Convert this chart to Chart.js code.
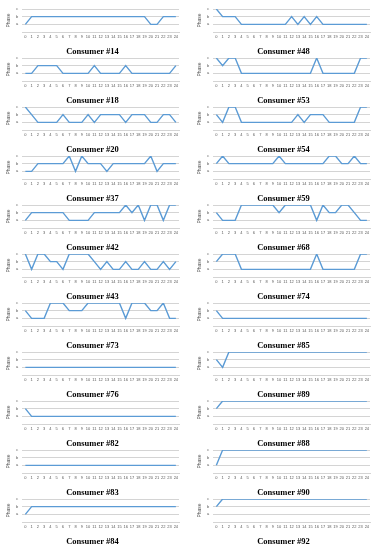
<!DOCTYPE html>
<html><head><meta charset="utf-8">
<script src="https://cdn.jsdelivr.net/npm/chart.js@4.4.1/dist/chart.umd.min.js"></script>
<style>
html,body{margin:0;padding:0;background:#fff;}
body{width:383px;height:550px;position:relative;overflow:hidden;}
canvas{position:absolute;}
</style></head><body>
<script>
// x categories (hour of day) and y tick labels (phase)
const hours = ['0','1','2','3','4','5','6','7','8','9','10','11','12','13','14','15','16','17','18','19','20','21','22','23','24'];
const phaseLabels = ['', 'a', 'b', 'c'];   // 1 = a, 2 = b, 3 = c

// left column
const consumer14 = [1,2,2,2,2,2,2,2,2,2,2,2,2,2,2,2,2,2,2,2,1,1,2,2,2];
const consumer18 = [1,1,2,2,2,2,1,1,1,1,1,2,1,1,1,1,2,1,1,1,1,1,1,1,2];
const consumer20 = [3,2,1,1,1,1,2,1,1,1,2,1,2,2,2,2,1,2,2,2,1,1,2,2,1];
const consumer37 = [1,1,2,2,2,2,2,3,1,3,2,2,2,1,2,2,2,2,2,2,3,1,2,2,2];
const consumer42 = [1,2,2,2,2,2,2,1,1,1,1,2,2,2,2,2,3,2,3,1,3,3,1,3,3];
const consumer43 = [3,1,3,3,2,2,1,3,3,3,3,2,1,2,1,1,2,1,1,2,1,1,2,1,2];
const consumer73 = [2,1,1,1,3,3,3,2,2,2,3,3,3,3,3,3,1,3,3,3,2,2,3,1,1];
const consumer76 = [1,1,1,1,1,1,1,1,1,1,1,1,1,1,1,1,1,1,1,1,1,1,1,1,1];
const consumer82 = [2,1,1,1,1,1,1,1,1,1,1,1,1,1,1,1,1,1,1,1,1,1,1,1,1];
const consumer83 = [1,1,1,1,1,1,1,1,1,1,1,1,1,1,1,1,1,1,1,1,1,1,1,1,1];
const consumer84 = [1,2,2,2,2,2,2,2,2,2,2,2,2,2,2,2,2,2,2,2,2,2,2,2,2];

// right column
const consumer48 = [3,2,2,2,1,1,1,1,1,1,1,1,2,1,2,1,2,1,1,1,1,1,1,1,1];
const consumer53 = [3,2,3,3,1,1,1,1,1,1,1,1,1,1,1,1,3,1,1,1,1,1,1,3,3];
const consumer54 = [2,1,3,3,1,1,1,1,1,1,1,1,1,2,1,2,2,2,1,1,1,1,1,3,3];
const consumer59 = [2,3,2,2,2,2,2,2,2,2,3,2,2,2,2,2,2,2,3,3,2,2,3,2,2];
const consumer68 = [2,1,1,1,3,3,3,3,3,3,2,3,3,3,3,3,1,3,2,2,3,3,2,1,1];
const consumer74 = [2,3,3,3,1,1,1,1,1,1,1,1,1,1,1,1,3,1,1,1,1,1,1,3,3];
const consumer85 = [2,1,1,1,1,1,1,1,1,1,1,1,1,1,1,1,1,1,1,1,1,1,1,1,1];
const consumer89 = [2,1,3,3,3,3,3,3,3,3,3,3,3,3,3,3,3,3,3,3,3,3,3,3,3];
const consumer88 = [2,3,3,3,3,3,3,3,3,3,3,3,3,3,3,3,3,3,3,3,3,3,3,3,3];
const consumer90 = [1,3,3,3,3,3,3,3,3,3,3,3,3,3,3,3,3,3,3,3,3,3,3,3,3];
const consumer92 = [2,3,3,3,3,3,3,3,3,3,3,3,3,3,3,3,3,3,3,3,3,3,3,3,3];

const leftTitles  = ['Consumer #14','Consumer #18','Consumer #20','Consumer #37','Consumer #42','Consumer #43','Consumer #73','Consumer #76','Consumer #82','Consumer #83','Consumer #84'];
const leftSeries  = [consumer14,consumer18,consumer20,consumer37,consumer42,consumer43,consumer73,consumer76,consumer82,consumer83,consumer84];
const rightTitles = ['Consumer #48','Consumer #53','Consumer #54','Consumer #59','Consumer #68','Consumer #74','Consumer #85','Consumer #89','Consumer #88','Consumer #90','Consumer #92'];
const rightSeries = [consumer48,consumer53,consumer54,consumer59,consumer68,consumer74,consumer85,consumer89,consumer88,consumer90,consumer92];

const PITCH = 49, TOP0 = 0, CW = 191, CH = 57;

function panel(col, row, title, values){
  const cv = document.createElement('canvas');
  cv.width = CW; cv.height = CH;
  cv.style.left = (col * 191) + 'px';
  cv.style.top = (TOP0 + row * PITCH) + 'px';
  cv.style.width = CW + 'px'; cv.style.height = CH + 'px';
  document.body.appendChild(cv);
  new Chart(cv, {
    type: 'line',
    data: { labels: hours, datasets: [{ data: values, borderColor: '#5B9BD5', borderWidth: 1.4, pointRadius: 0, tension: 0, fill: false }] },
    options: {
      responsive: false, animation: false, devicePixelRatio: 1,
      layout: { padding: { left: 6, right: 12, top: 9, bottom: 0 } },
      plugins: {
        legend: { display: false }, tooltip: { enabled: false },
        title: { display: true, text: title, position: 'bottom', color: '#000',
          font: { family: 'Liberation Serif', weight: 'bold', size: 8.5 }, padding: { top: 6, bottom: 0 } }
      },
      scales: {
        x: { offset: true,
          grid: { display: false, drawTicks: false },
          border: { display: true, color: '#d4d4d4', width: 1 },
          ticks: { font: { family: 'Liberation Sans', size: 4 }, color: '#595959', maxRotation: 0, autoSkip: false, padding: 2 } },
        y: { min: 0, max: 3,
          grid: { color: '#d4d4d4', drawTicks: false, lineWidth: 1 },
          border: { display: false },
          ticks: { stepSize: 1, padding: 4, autoSkip: false, color: '#595959', font: { family: 'Liberation Sans', size: 4 },
            callback: v => phaseLabels[v] },
          title: { display: true, text: 'Phase', color: '#595959', font: { family: 'Liberation Sans', size: 5 }, padding: 0 } }
      }
    }
  });
}

leftTitles.forEach((t, i) => panel(0, i, t, leftSeries[i]));
rightTitles.forEach((t, i) => panel(1, i, t, rightSeries[i]));
</script>
</body></html>
